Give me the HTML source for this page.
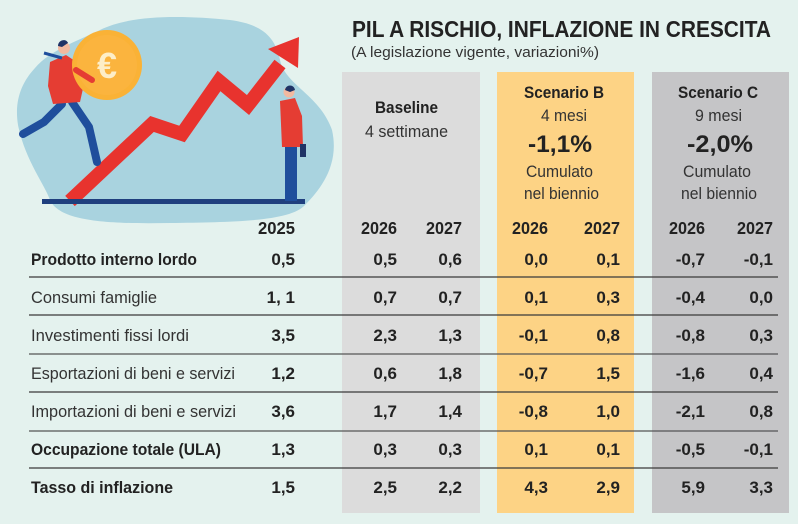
<!DOCTYPE html>
<html><head><meta charset="utf-8"><style>
html,body{margin:0;padding:0;background:#e4f2ee;}
svg{display:block;}
text{font-family:"Liberation Sans",sans-serif;fill:#222;}
.b{font-weight:bold;}
.n{font-weight:bold;font-size:17px;text-anchor:end;}
.y{font-weight:bold;font-size:17.5px;text-anchor:end;}
.l{font-size:16.5px;}
.h{text-anchor:middle;}
</style></head><body>
<svg width="798" height="524" viewBox="0 0 798 524" xmlns="http://www.w3.org/2000/svg">
<rect x="0" y="0" width="798" height="524" fill="#e4f2ee"/>
<!-- illustration -->
<path d="M35,68 C50,50 80,40 100,30 C130,15 180,15 230,20 C260,24 275,35 280,60 C285,85 320,95 332,130 C340,165 320,190 305,205 C290,222 230,222 170,223 C110,224 60,222 50,200 C45,185 25,160 18,125 C14,100 22,82 35,68 Z" fill="#a9d3df"/>
<polyline points="70,201 152,124 182,134 219,81 248,105 280,64" fill="none" stroke="#e8332e" stroke-width="14" stroke-linejoin="miter" stroke-miterlimit="10"/>
<polygon points="299,37 268,49 298,68" fill="#e8332e"/>
<rect x="42" y="199" width="263" height="5" fill="#1f3f7e"/>
<!-- runner -->
<path d="M62,104 L44,122 L23,134" fill="none" stroke="#1f4e9c" stroke-width="8" stroke-linecap="round" stroke-linejoin="round"/>
<path d="M72,102 L89,127 L97,162" fill="none" stroke="#1f4e9c" stroke-width="8" stroke-linecap="round" stroke-linejoin="round"/>
<polygon points="50,62 66,55 78,63 84,84 80,102 53,104 48,86" fill="#e53d33"/>
<line x1="44" y1="53" x2="62" y2="58" stroke="#1f4e9c" stroke-width="3"/>
<circle cx="64" cy="48" r="6" fill="#f2b9a0"/>
<path d="M58,46 C58,40 66,38 68,43 L62,47 Z" fill="#1f3366"/>
<circle cx="107" cy="65" r="35" fill="#fab236"/>
<circle cx="107" cy="65" r="30" fill="#fbb43e"/>
<text x="107" y="78" text-anchor="middle" style="font-size:36px;font-weight:bold;fill:#fdeec8">€</text>
<path d="M76,70 L92,80" stroke="#e53d33" stroke-width="6" stroke-linecap="round"/>
<!-- standing man -->
<rect x="285" y="145" width="12" height="56" fill="#1f4e9c"/>
<polygon points="280,101 295,98 302,116 303,147 282,147" fill="#e53d33"/>
<rect x="300" y="144" width="6" height="13" fill="#1f3366"/>
<circle cx="289" cy="92" r="5.5" fill="#f2b9a0"/>
<path d="M285,90 C286,84 294,84 295,90 L290,92 Z" fill="#1f3366"/>
<!-- panels -->
<rect x="342" y="72" width="138" height="441" fill="#dcdcdc"/>
<rect x="497" y="72" width="137" height="441" fill="#fdd385"/>
<rect x="652" y="72" width="137" height="441" fill="#c5c5c7"/>
<!-- title -->
<text x="352" y="37" class="b" style="font-size:23px" textLength="419" lengthAdjust="spacingAndGlyphs">PIL A RISCHIO, INFLAZIONE IN CRESCITA</text>
<text x="351" y="57" style="font-size:15px;fill:#333" textLength="248" lengthAdjust="spacingAndGlyphs">(A legislazione vigente, variazioni%)</text>
<!-- headers -->
<text x="375" y="113" class="b" style="font-size:17px" textLength="63" lengthAdjust="spacingAndGlyphs">Baseline</text>
<text x="365" y="137" style="font-size:16.5px;fill:#333" textLength="83" lengthAdjust="spacingAndGlyphs">4 settimane</text>
<text x="524" y="98" class="b" style="font-size:17px" textLength="80" lengthAdjust="spacingAndGlyphs">Scenario B</text>
<text x="541" y="121" style="font-size:16.5px;fill:#333" textLength="46" lengthAdjust="spacingAndGlyphs">4 mesi</text>
<text x="528" y="152" class="b" style="font-size:24px" textLength="64" lengthAdjust="spacingAndGlyphs">-1,1%</text>
<text x="526" y="177" style="font-size:16.5px;fill:#333" textLength="67" lengthAdjust="spacingAndGlyphs">Cumulato</text>
<text x="524" y="199" style="font-size:16.5px;fill:#333" textLength="75" lengthAdjust="spacingAndGlyphs">nel biennio</text>
<text x="678" y="98" class="b" style="font-size:17px" textLength="80" lengthAdjust="spacingAndGlyphs">Scenario C</text>
<text x="695" y="121" style="font-size:16.5px;fill:#333" textLength="47" lengthAdjust="spacingAndGlyphs">9 mesi</text>
<text x="687" y="152" class="b" style="font-size:24px" textLength="66" lengthAdjust="spacingAndGlyphs">-2,0%</text>
<text x="683" y="177" style="font-size:16.5px;fill:#333" textLength="68" lengthAdjust="spacingAndGlyphs">Cumulato</text>
<text x="681" y="199" style="font-size:16.5px;fill:#333" textLength="76" lengthAdjust="spacingAndGlyphs">nel biennio</text>
<!-- years -->
<text x="295" y="234" class="y" textLength="37" lengthAdjust="spacingAndGlyphs">2025</text>
<text x="397" y="234" class="y" textLength="36" lengthAdjust="spacingAndGlyphs">2026</text>
<text x="462" y="234" class="y" textLength="36" lengthAdjust="spacingAndGlyphs">2027</text>
<text x="548" y="234" class="y" textLength="36" lengthAdjust="spacingAndGlyphs">2026</text>
<text x="620" y="234" class="y" textLength="36" lengthAdjust="spacingAndGlyphs">2027</text>
<text x="705" y="234" class="y" textLength="36" lengthAdjust="spacingAndGlyphs">2026</text>
<text x="773" y="234" class="y" textLength="36" lengthAdjust="spacingAndGlyphs">2027</text>
<!-- row lines -->
<g stroke="#3a3a3a" stroke-width="1.3">
<line x1="29" y1="277" x2="778" y2="277"/>
<line x1="29" y1="315" x2="778" y2="315"/>
<line x1="29" y1="354" x2="778" y2="354" stroke="#555"/>
<line x1="29" y1="392" x2="778" y2="392"/>
<line x1="29" y1="431" x2="778" y2="431" stroke="#555"/>
<line x1="29" y1="468" x2="778" y2="468"/>
</g>
<!-- labels -->
<text x="31" y="265" class="l b" textLength="166" lengthAdjust="spacingAndGlyphs">Prodotto interno lordo</text>
<text x="31" y="303" class="l" style="fill:#333" textLength="126" lengthAdjust="spacingAndGlyphs">Consumi famiglie</text>
<text x="31" y="341" class="l" style="fill:#333" textLength="158" lengthAdjust="spacingAndGlyphs">Investimenti fissi lordi</text>
<text x="31" y="379" class="l" style="fill:#333" textLength="204" lengthAdjust="spacingAndGlyphs">Esportazioni di beni e servizi</text>
<text x="31" y="417" class="l" style="fill:#333" textLength="205" lengthAdjust="spacingAndGlyphs">Importazioni di beni e servizi</text>
<text x="31" y="455" class="l b" textLength="190" lengthAdjust="spacingAndGlyphs">Occupazione totale (ULA)</text>
<text x="31" y="493" class="l b" textLength="142" lengthAdjust="spacingAndGlyphs">Tasso di inflazione</text>
<!-- numbers -->
<g>
<text x="295" y="265" class="n">0,5</text><text x="397" y="265" class="n">0,5</text><text x="462" y="265" class="n">0,6</text><text x="548" y="265" class="n">0,0</text><text x="620" y="265" class="n">0,1</text><text x="705" y="265" class="n">-0,7</text><text x="773" y="265" class="n">-0,1</text>
<text x="295" y="303" class="n">1, 1</text><text x="397" y="303" class="n">0,7</text><text x="462" y="303" class="n">0,7</text><text x="548" y="303" class="n">0,1</text><text x="620" y="303" class="n">0,3</text><text x="705" y="303" class="n">-0,4</text><text x="773" y="303" class="n">0,0</text>
<text x="295" y="341" class="n">3,5</text><text x="397" y="341" class="n">2,3</text><text x="462" y="341" class="n">1,3</text><text x="548" y="341" class="n">-0,1</text><text x="620" y="341" class="n">0,8</text><text x="705" y="341" class="n">-0,8</text><text x="773" y="341" class="n">0,3</text>
<text x="295" y="379" class="n">1,2</text><text x="397" y="379" class="n">0,6</text><text x="462" y="379" class="n">1,8</text><text x="548" y="379" class="n">-0,7</text><text x="620" y="379" class="n">1,5</text><text x="705" y="379" class="n">-1,6</text><text x="773" y="379" class="n">0,4</text>
<text x="295" y="417" class="n">3,6</text><text x="397" y="417" class="n">1,7</text><text x="462" y="417" class="n">1,4</text><text x="548" y="417" class="n">-0,8</text><text x="620" y="417" class="n">1,0</text><text x="705" y="417" class="n">-2,1</text><text x="773" y="417" class="n">0,8</text>
<text x="295" y="455" class="n">1,3</text><text x="397" y="455" class="n">0,3</text><text x="462" y="455" class="n">0,3</text><text x="548" y="455" class="n">0,1</text><text x="620" y="455" class="n">0,1</text><text x="705" y="455" class="n">-0,5</text><text x="773" y="455" class="n">-0,1</text>
<text x="295" y="493" class="n">1,5</text><text x="397" y="493" class="n">2,5</text><text x="462" y="493" class="n">2,2</text><text x="548" y="493" class="n">4,3</text><text x="620" y="493" class="n">2,9</text><text x="705" y="493" class="n">5,9</text><text x="773" y="493" class="n">3,3</text>
</g>
</svg>
</body></html>
